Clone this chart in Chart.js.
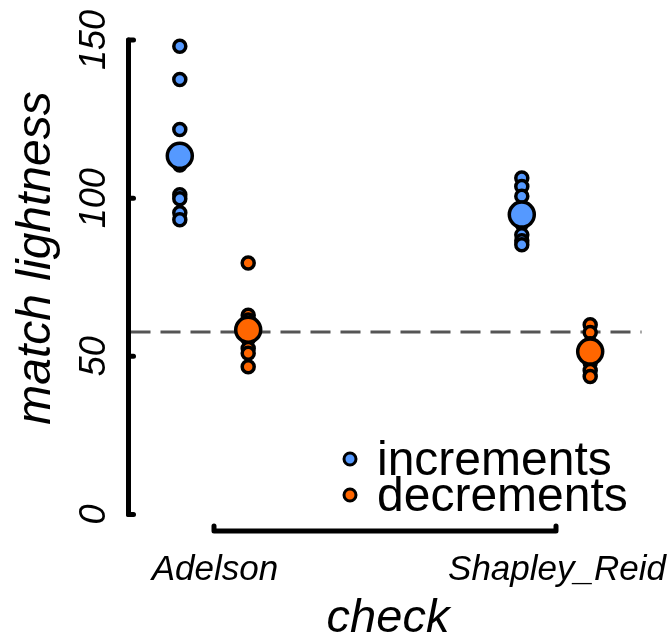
<!DOCTYPE html>
<html>
<head>
<meta charset="utf-8">
<script src="https://cdn.jsdelivr.net/npm/chart.js@4"></script>
<style>
  body { margin: 0; background: #fff; }
  canvas { display: block; }
</style>
</head>
<body>
<canvas id="grafico" width="672" height="637"></canvas>
<script>
const categorias = ['Adelson', 'Shapley_Reid'];
const yTicks = [0, 50, 100, 150];

// pontos individuais
const incAdelson = [148, 137.5, 121.7, 110.5, 101.1, 99.8, 95.4, 93.2];
const incShapley = [106.4, 103.7, 100.6, 96, 92, 88.4, 86.5, 85.3];
const decAdelson = [79.5, 63, 61.5, 59.5, 55.5, 52.5, 51, 46.7];
const decShapley = [60, 57.5, 54, 52, 50, 48, 45.5, 43.6];

// medias (circulos grandes)
const incMedias = [113.4, 94.8];
const decMedias = [58.4, 51.5];

const linhaRef = 57.7;

const azul = '#5599ff';
const laranja = '#ff6600';
const fonte = '"Liberation Sans", Arial, sans-serif';

function pontos(valores, x) {
  return valores.map(v => ({ x: x, y: v }));
}

const eixos = {
  id: 'eixos',
  beforeDatasetsDraw(chart) {
    const { ctx, scales: { x, y } } = chart;
    const yy = y.getPixelForValue(linhaRef);
    ctx.save();
    ctx.strokeStyle = '#555';
    ctx.lineWidth = 3;
    ctx.setLineDash([20, 10]);
    ctx.beginPath();
    ctx.moveTo(x.getPixelForValue(0.75) + 2, yy);
    ctx.lineTo(x.getPixelForValue(2.25), yy);
    ctx.stroke();
    ctx.restore();
  },
  afterDraw(chart) {
    const { ctx, scales: { x, y } } = chart;
    ctx.save();
    ctx.strokeStyle = '#000';
    ctx.fillStyle = '#000';
    ctx.lineWidth = 5;
    ctx.lineCap = 'round';
    ctx.lineJoin = 'round';

    // eixo y
    const ax = x.getPixelForValue(0.75);
    ctx.beginPath();
    ctx.moveTo(ax, y.getPixelForValue(yTicks[0]));
    ctx.lineTo(ax, y.getPixelForValue(yTicks[yTicks.length - 1]));
    ctx.stroke();
    yTicks.forEach(t => {
      const py = y.getPixelForValue(t);
      ctx.beginPath();
      ctx.moveTo(ax, py);
      ctx.lineTo(ax + 5, py);
      ctx.stroke();
      ctx.save();
      ctx.translate(ax - 24, py);
      ctx.rotate(-Math.PI / 2);
      ctx.font = 'italic 36px ' + fonte;
      ctx.textAlign = 'center';
      ctx.textBaseline = 'alphabetic';
      ctx.fillText(String(t), 0, 0);
      ctx.restore();
    });

    // eixo x
    const ay = 531;
    const x1 = x.getPixelForValue(1);
    const x2 = x.getPixelForValue(2);
    ctx.beginPath();
    ctx.moveTo(x1, ay - 5);
    ctx.lineTo(x1, ay);
    ctx.lineTo(x2, ay);
    ctx.lineTo(x2, ay - 5);
    ctx.stroke();
    ctx.font = 'italic 35px ' + fonte;
    ctx.textAlign = 'center';
    ctx.textBaseline = 'alphabetic';
    categorias.forEach((c, i) => {
      ctx.fillText(c, x.getPixelForValue(i + 1) + 1, 580);
    });

    // titulos
    ctx.font = 'italic 47px ' + fonte;
    ctx.fillText('check', 388, 632);
    ctx.save();
    ctx.translate(50, 258);
    ctx.rotate(-Math.PI / 2);
    ctx.font = 'italic 48px ' + fonte;
    ctx.fillText('match lightness', 0, 0);
    ctx.restore();

    // legenda
    const leg = [['increments', azul, 459], ['decrements', laranja, 495]];
    ctx.font = '48px ' + fonte;
    ctx.textAlign = 'left';
    ctx.textBaseline = 'middle';
    leg.forEach(([nome, cor, py]) => {
      ctx.beginPath();
      ctx.arc(350, py, 6, 0, Math.PI * 2);
      ctx.fillStyle = cor;
      ctx.fill();
      ctx.lineWidth = 3;
      ctx.strokeStyle = '#000';
      ctx.stroke();
      ctx.fillStyle = '#000';
      ctx.fillText(nome, 377, py + 3);
    });
    ctx.restore();
  }
};

function criarGrafico() {
  const ctx = document.getElementById('grafico');
  const pequeno = { pointRadius: 6, borderWidth: 3.5, borderColor: '#000', order: 1, clip: false };
  const grande = { pointRadius: 12.5, borderWidth: 3.5, borderColor: '#000', order: 0, clip: false };

  new Chart(ctx, {
    type: 'scatter',
    data: {
      datasets: [
        Object.assign({ label: 'increments', data: pontos(incAdelson, 0.9).concat(pontos(incShapley, 1.9)), backgroundColor: azul }, pequeno),
        Object.assign({ label: 'decrements', data: pontos(decAdelson, 1.1).concat(pontos(decShapley, 2.1)), backgroundColor: laranja }, pequeno),
        Object.assign({ label: 'inc media', data: incMedias.map((v, i) => ({ x: i + 0.9, y: v })), backgroundColor: azul }, grande),
        Object.assign({ label: 'dec media', data: decMedias.map((v, i) => ({ x: i + 1.1, y: v })), backgroundColor: laranja }, grande)
      ]
    },
    options: {
      responsive: false,
      animation: false,
      devicePixelRatio: 1,
      layout: { padding: { left: 128.5, right: 30.5, top: 40, bottom: 122.5 } },
      plugins: { legend: { display: false }, tooltip: { enabled: false } },
      scales: {
        x: { type: 'linear', min: 0.75, max: 2.25, display: false },
        y: { type: 'linear', min: 0, max: 150, display: false }
      }
    },
    plugins: [eixos]
  });
}

criarGrafico();
</script>
</body>
</html>
